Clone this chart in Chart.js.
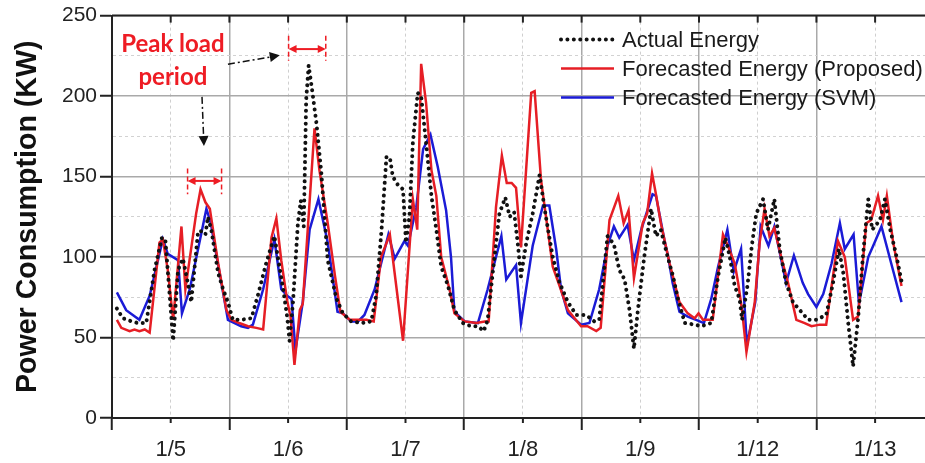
<!DOCTYPE html>
<html>
<head>
<meta charset="utf-8">
<script src="https://cdn.jsdelivr.net/npm/chart.js@4.4.1/dist/chart.umd.min.js"></script>
<style>
  html, body { margin: 0; padding: 0; background: #fff; }
  #wrap { width: 925px; height: 463px; }
</style>
</head>
<body>
<div id="wrap"><canvas id="chart" width="925" height="463"></canvas></div>
<script>
// x values are hours counted from the start of 1/5
var dayLabels = ['1/5', '1/6', '1/7', '1/8', '1/9', '1/12', '1/13'];
var yLabels = [0, 50, 100, 150, 200, 250];

var actualHours = [1, 2.2, 4, 5.3, 7, 8.7, 10.2, 10.9, 11.8, 12.5,
  13.5, 14.5, 15.5, 16.2, 17.6, 18.5, 19.1, 19.6, 20.3, 21.7,
  22.7, 23.7, 24.7, 26.4, 28.5, 29.8, 31.5, 33.2, 33.9, 35,
  35.8, 36.3, 37, 38, 38.6, 39.2, 39.7, 40.2, 40.9, 41.8,
  42.8, 44.1, 45.9, 47.2, 48.9, 51, 53, 54, 55.1, 56.1,
  56.8, 57.4, 58.4, 59.5, 60.1, 60.8, 61.5, 62.5, 63.2, 64.2,
  65.3, 66.3, 67.3, 68.7, 70, 71.7, 73.4, 74.8, 76, 76.8,
  77.9, 79.2, 80.4, 81.3, 82.2, 83, 83.6, 84.7, 86, 87.4,
  88.7, 90.1, 91.5, 93.2, 94.9, 96.9, 98.6, 99.6, 101.3, 102.6,
  103.7, 104.8, 105.8, 106.7, 107.5, 108.8, 110.2, 111.2, 112.2, 113.6,
  114.7, 115.7, 117.1, 119.1, 120.5, 122.5, 123.9, 125.4, 126.3, 127.3,
  128.3, 128.8, 129.9, 130.8, 131.7, 133.1, 134.1, 135.4, 136.5, 137.8,
  139.2, 140.9, 142.3, 144, 146, 147.4, 148.6, 149.5, 150.5, 151.5,
  152.5, 153.5, 154.6, 155.4, 157, 158, 159.1, 160.4, 161.4];
var actualKW = [68, 62, 60, 59, 59, 92, 112, 111, 76, 48,
  92, 99, 84, 72, 116, 116, 114, 125, 117, 90,
  80, 72, 61, 61, 62, 76, 96, 113, 100, 80,
  63, 48, 72, 121, 135, 119, 198, 219, 204, 183,
  152, 98, 74, 65, 60, 59, 60, 76, 117, 162,
  162, 150, 145, 142, 109, 125, 171, 202, 200, 171,
  138, 117, 94, 82, 67, 59, 57, 57, 54, 61,
  92, 127, 137, 125, 128, 107, 88, 109, 127, 151,
  125, 100, 84, 72, 64, 64, 60, 61, 113, 108,
  92, 86, 67, 43, 67, 100, 130, 113, 117, 100,
  88, 74, 59, 58, 57, 59, 88, 112, 100, 82,
  74, 61, 82, 107, 127, 136, 117, 136, 105, 84,
  72, 66, 61, 61, 64, 84, 105, 90, 59, 32,
  61, 100, 136, 117, 123, 136, 117, 100, 85];

var proposedHours = [1, 1.9, 3.6, 4.6, 5.6, 6.7, 7.7, 9.7, 10.4, 11.4,
  12.5, 14.2, 15, 17.2, 18.1, 19.1, 20, 21.7, 23.4, 24.4,
  26, 27.8, 29.5, 30.9, 32.6, 33.6, 34.6, 35.8, 36.5, 37.3,
  38.4, 39, 41.4, 42.4, 44.1, 45.6, 46.7, 48.6, 52, 53.5,
  55, 56.8, 59.5, 61.5, 62.4, 63.2, 64.2, 65.3, 66.3, 67.3,
  69, 70, 72.1, 74.5, 76.2, 77, 78.5, 79.7, 80.7, 81.7,
  82.6, 83.6, 85.7, 86.4, 87.7, 90.1, 91.5, 93.2, 95.9, 97.2,
  99, 99.9, 101.7, 103.5, 104.6, 105.6, 106.7, 108.5, 109.4, 110.4,
  111.2, 112.2, 114, 116, 117.7, 119.1, 119.9, 120.8, 122.8, 124.9,
  125.9, 127.3, 128, 128.8, 129.7, 131.4, 132.4, 133.4, 134.4, 135.4,
  136.8, 138.2, 139.9, 141.6, 143, 144.7, 146, 148.4, 149.8, 151.5,
  152.5, 154.2, 155.2, 156.6, 157.6, 158.4, 159.7, 161.4];
var proposedKW = [61, 56, 54, 55, 54, 55, 53, 109, 111, 92,
  61, 119, 80, 127, 142, 134, 130, 96, 67, 61,
  59, 57, 56, 55, 112, 124, 98, 73, 63, 33,
  67, 71, 180, 154, 121, 88, 66, 61, 61, 60,
  100, 114, 48, 136, 117, 220, 196, 154, 138, 100,
  80, 65, 60, 59, 60, 60, 131, 163, 146, 146,
  143, 106, 202, 203, 148, 94, 82, 67, 57, 57,
  54, 56, 123, 138, 121, 129, 87, 121, 127, 152,
  139, 121, 96, 72, 65, 62, 65, 61, 61, 114,
  107, 96, 84, 67, 41, 72, 109, 130, 113, 118,
  100, 84, 61, 59, 57, 58, 58, 110, 100, 61,
  63, 121, 123, 138, 123, 138, 109, 82];

var svmHours = [1, 2.9, 5.6, 7.7, 10.4, 11.4, 13.5, 14.3, 15.9, 19.3, 20.2, 22,
  23.7, 26.4, 27.8, 28.8, 30.9, 33.2, 34.6, 35.8, 36.7, 37.5,
  39, 40.4, 42.2, 44.1, 46.1, 47.2, 48.9, 50.3, 51.6, 53.7,
  56.5, 57.8, 59.8, 60.5, 62.2, 63.6, 65.1, 66.6, 68.3, 69.3,
  70, 72.1, 74.8, 76.8, 79.6, 80.6, 82.6, 83.6, 86, 88.1,
  89.4, 90.8, 91.8, 93.2, 95.9, 97.6, 99.6, 101.3, 102.6, 103.7,
  105.4, 106.7, 108.2, 110.5, 111.2, 112.9, 113.7, 114.6, 116, 117.7,
  119.4, 121, 122.5, 123.9, 125.8, 127.1, 128.6, 129.8, 131.5, 132.6,
  134.2, 135.4, 137.8, 139.4, 141.2, 142.3, 144, 145.4, 147.1, 148.8,
  149.8, 151.6, 152.7, 154.6, 155.9, 157.3, 159.3, 161.4];
var svmKW = [78, 67, 61, 76, 111, 102, 98, 65, 80, 130, 121, 90,
  61, 57, 56, 58, 80, 111, 80, 76, 74, 42,
  72, 117, 136, 109, 66, 65, 60, 60, 64, 80,
  114, 99, 110, 107, 131, 167, 176, 156, 129, 100,
  66, 60, 59, 80, 113, 86, 95, 59, 107, 132,
  132, 105, 80, 65, 58, 59, 80, 107, 119, 112,
  120, 98, 117, 139, 138, 111, 100, 84, 66, 63,
  61, 59, 74, 94, 117, 91, 105, 45, 72, 119,
  107, 119, 84, 101, 84, 77, 69, 77, 96, 121,
  105, 114, 71, 100, 109, 119, 96, 72];

function toPoints(hs, vs) {
  return hs.map(function(h, i) { return {x: h, y: vs[i]}; });
}

var axisFont = '"Liberation Sans", Arial, sans-serif';

function tickVal(ctx) { return ctx.tick ? ctx.tick.value : -1; }

// annotations, in data units (hours, kW)
var peakMarks = [{from: 15.45, to: 22.4, hi: 155, lo: 139, mid: 147.3},
                 {from: 36.1, to: 43.7, hi: 237.5, lo: 222, mid: 229.2}];

var overlay = {
  id: 'overlay',
  afterDraw: function(chart) {
    var c = chart.ctx, a = chart.chartArea, xs = chart.scales.x, ys = chart.scales.y;
    function px(h) { return xs.getPixelForValue(h); }
    function py(v) { return ys.getPixelForValue(v); }
    c.save();

    // top frame with inward ticks, short ticks at the midday labels
    c.strokeStyle = '#222';
    c.lineWidth = 2;
    c.beginPath(); c.moveTo(a.left, a.top); c.lineTo(a.right, a.top); c.stroke();
    xs.ticks.forEach(function(t) {
      if (t.value % 12 !== 0) return;
      var x = px(t.value);
      c.beginPath(); c.moveTo(x, a.top); c.lineTo(x, a.top + 7); c.stroke();
      if (t.value % 24 === 12) {
        c.beginPath(); c.moveTo(x, a.bottom); c.lineTo(x, a.bottom + 5); c.stroke();
      }
    });

    // legend
    chart.data.datasets.forEach(function(ds, i) {
      var y = 39.5 + i * 29;
      c.save();
      c.strokeStyle = ds.borderColor;
      c.lineWidth = ds.borderWidth;
      c.setLineDash(ds.borderDash || []);
      c.lineCap = ds.borderCapStyle || 'butt';
      c.beginPath(); c.moveTo(561, y); c.lineTo(614, y); c.stroke();
      c.restore();
      c.fillStyle = '#1a1a1a';
      c.font = '22px ' + axisFont;
      c.textBaseline = 'middle';
      c.textAlign = 'left';
      c.fillText(ds.label, 622, y + 1);
    });

    // peak load note
    c.fillStyle = '#ee1c24';
    c.font = 'bold 24px Lato, "Open Sans", sans-serif';
    c.textAlign = 'center';
    c.textBaseline = 'middle';
    c.fillText('Peak load', px(12.45), py(232));
    c.fillText('period', px(12.45), py(211.5));

    function head(x1, y1, x2, y2, len, w) {
      var ang = Math.atan2(y2 - y1, x2 - x1);
      c.beginPath();
      c.moveTo(x2, y2);
      c.lineTo(x2 - len * Math.cos(ang) + w * Math.sin(ang), y2 - len * Math.sin(ang) - w * Math.cos(ang));
      c.lineTo(x2 - len * Math.cos(ang) - w * Math.sin(ang), y2 - len * Math.sin(ang) + w * Math.cos(ang));
      c.closePath();
      c.fill();
    }

    // red window markers
    c.strokeStyle = '#ee1c24';
    peakMarks.forEach(function(m) {
      var x1 = px(m.from), x2 = px(m.to), yt = py(m.hi), yb = py(m.lo), ym = py(m.mid);
      c.lineWidth = 1.5;
      c.setLineDash([5, 3]);
      c.beginPath(); c.moveTo(x1, yt); c.lineTo(x1, yb); c.moveTo(x2, yt); c.lineTo(x2, yb); c.stroke();
      c.setLineDash([]);
      c.lineWidth = 2;
      c.beginPath(); c.moveTo(x1 + 4, ym); c.lineTo(x2 - 4, ym); c.stroke();
      head(x2, ym, x1, ym, 8, 4);
      head(x1, ym, x2, ym, 8, 4);
    });

    // black dash-dot pointers
    c.strokeStyle = '#111';
    c.fillStyle = '#111';
    c.lineWidth = 1.5;
    var arrows = [[23.7, 219.8, 34.3, 225.3], [18.4, 199.5, 18.8, 169]];
    arrows.forEach(function(r) {
      var x1 = px(r[0]), y1 = py(r[1]), x2 = px(r[2]), y2 = py(r[3]);
      var ang = Math.atan2(y2 - y1, x2 - x1);
      c.setLineDash([7, 3, 2, 3]);
      c.beginPath(); c.moveTo(x1, y1); c.lineTo(x2 - 8 * Math.cos(ang), y2 - 8 * Math.sin(ang)); c.stroke();
      c.setLineDash([]);
      head(x1, y1, x2, y2, 10, 5);
    });

    c.restore();
  }
};

new Chart(document.getElementById('chart'), {
  type: 'line',
  data: {
    datasets: [
      {
        label: 'Actual Energy',
        data: toPoints(actualHours, actualKW),
        borderColor: '#111111',
        borderWidth: 4,
        borderDash: [0.01, 6.4],
        borderCapStyle: 'round',
        pointRadius: 0,
        tension: 0,
        fill: false
      },
      {
        label: 'Forecasted Energy (Proposed)',
        data: toPoints(proposedHours, proposedKW),
        borderColor: '#e61e25',
        borderWidth: 2.5,
        pointRadius: 0,
        tension: 0,
        fill: false
      },
      {
        label: 'Forecasted Energy (SVM)',
        data: toPoints(svmHours, svmKW),
        borderColor: '#1b1bd6',
        borderWidth: 2.5,
        pointRadius: 0,
        tension: 0,
        fill: false
      }
    ]
  },
  options: {
    responsive: false,
    animation: false,
    layout: { padding: { top: 13, right: 0, left: 0, bottom: 0 } },
    plugins: { legend: { display: false }, tooltip: { enabled: false } },
    scales: {
      x: {
        type: 'linear',
        min: 0,
        max: 166.2,
        afterFit: function(s) { s.height = 45; },
        ticks: {
          stepSize: 12,
          includeBounds: false,
          autoSkip: false,
          maxRotation: 0,
          padding: 7,
          color: '#222',
          font: { family: axisFont, size: 22 },
          callback: function(v) { return v % 24 === 12 ? dayLabels[(v - 12) / 24] : ''; }
        },
        grid: {
          color: function(ctx) { var v = tickVal(ctx); return v % 24 === 0 ? '#a9a9a9' : (v % 24 === 12 ? '#cfcfcf' : 'rgba(0,0,0,0)'); },
          lineWidth: function(ctx) { return tickVal(ctx) % 24 === 0 ? 1.5 : 1; },
          tickColor: function(ctx) { return tickVal(ctx) % 24 === 0 ? '#222' : 'rgba(0,0,0,0)'; },
          tickWidth: 2,
          tickLength: 12
        },
        border: {
          color: '#222',
          width: 2,
          dash: function(ctx) { return tickVal(ctx) % 24 === 12 ? [3, 3] : []; }
        }
      },
      y: {
        min: 0,
        max: 250,
        afterFit: function(s) { s.width = 112; },
        ticks: {
          stepSize: 25,
          autoSkip: false,
          padding: 3,
          color: '#222',
          font: { family: axisFont, size: 21 },
          callback: function(v) { return yLabels.indexOf(v) >= 0 ? String(v) : ''; }
        },
        grid: {
          color: function(ctx) { return tickVal(ctx) % 50 === 0 ? '#a9a9a9' : '#d2d2d2'; },
          lineWidth: function(ctx) { return tickVal(ctx) % 50 === 0 ? 1.5 : 1; },
          tickColor: function(ctx) { return tickVal(ctx) % 50 === 0 ? '#222' : 'rgba(0,0,0,0)'; },
          tickWidth: 2,
          tickLength: 12
        },
        border: {
          color: '#222',
          width: 2,
          dash: function(ctx) { var v = tickVal(ctx); return (v >= 0 && v % 50 !== 0) ? [3, 3] : []; }
        },
        title: {
          display: true,
          text: 'Power Consumption (KW)',
          color: '#111',
          font: { family: axisFont, size: 28.6, weight: 'bold' },
          padding: { top: 11, bottom: 0 }
        }
      }
    }
  },
  plugins: [overlay]
});
</script>
</body>
</html>
